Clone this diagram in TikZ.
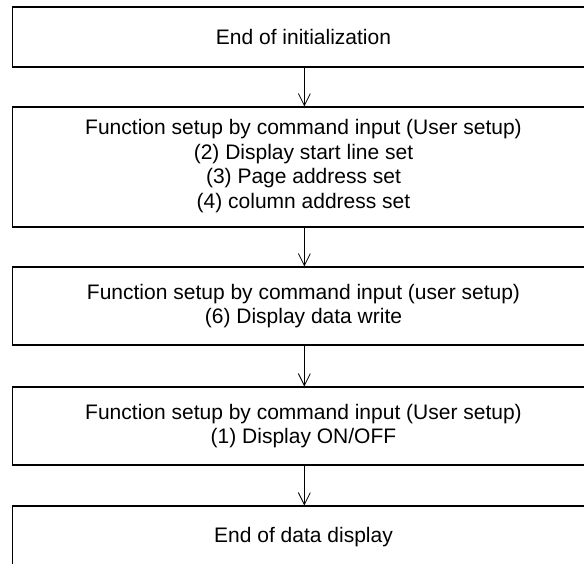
\documentclass[tikz,border=0pt]{standalone}
\usepackage{fontspec}
\setmainfont{Liberation Sans}
\usetikzlibrary{arrows.meta}
\begin{document}
\begin{tikzpicture}[x=1pt,y=-1pt,
  box/.style={draw, line width=1.1pt, inner sep=0pt, minimum width=583.3pt},
  txt/.style={align=center, inner sep=0pt, font=\fontsize{21}{24.8}\selectfont},
  arr/.style={line width=0.8pt, -{Straight Barb[length=12pt,width=12pt,line width=0.8pt]}}]
\useasboundingbox (0,0) rectangle (584,563);
\clip (0,0) rectangle (584,563);
\node[box, minimum height=60pt] (b1) at (304.35,37) {};
\node[box, minimum height=120pt] (b2) at (304.35,167) {};
\node[box, minimum height=78pt] (b3) at (304.35,306) {};
\node[box, minimum height=78pt] (b4) at (304.35,426) {};
\node[box, minimum height=60pt] (b5) at (304.35,536) {};
\node[txt] (t1) at (303.5,37) {End of initialization};
\node[txt] (t2) at (303.5,166) {Function setup by command input (User setup)\\(2) Display start line set\\(3) Page address set\\(4) column address set};
\node[txt] (t3) at (303.5,306) {Function setup by command input (user setup)\\(6) Display data write};
\node[txt] (t4) at (303.5,426) {Function setup by command input (User setup)\\(1) Display ON/OFF};
\node[txt] (t5) at (303.5,537) {End of data display};
\draw[arr] (b1.south) -- (b2.north);
\draw[arr] (b2.south) -- (b3.north);
\draw[arr] (b3.south) -- (b4.north);
\draw[arr] (b4.south) -- (b5.north);
\end{tikzpicture}
\end{document}
